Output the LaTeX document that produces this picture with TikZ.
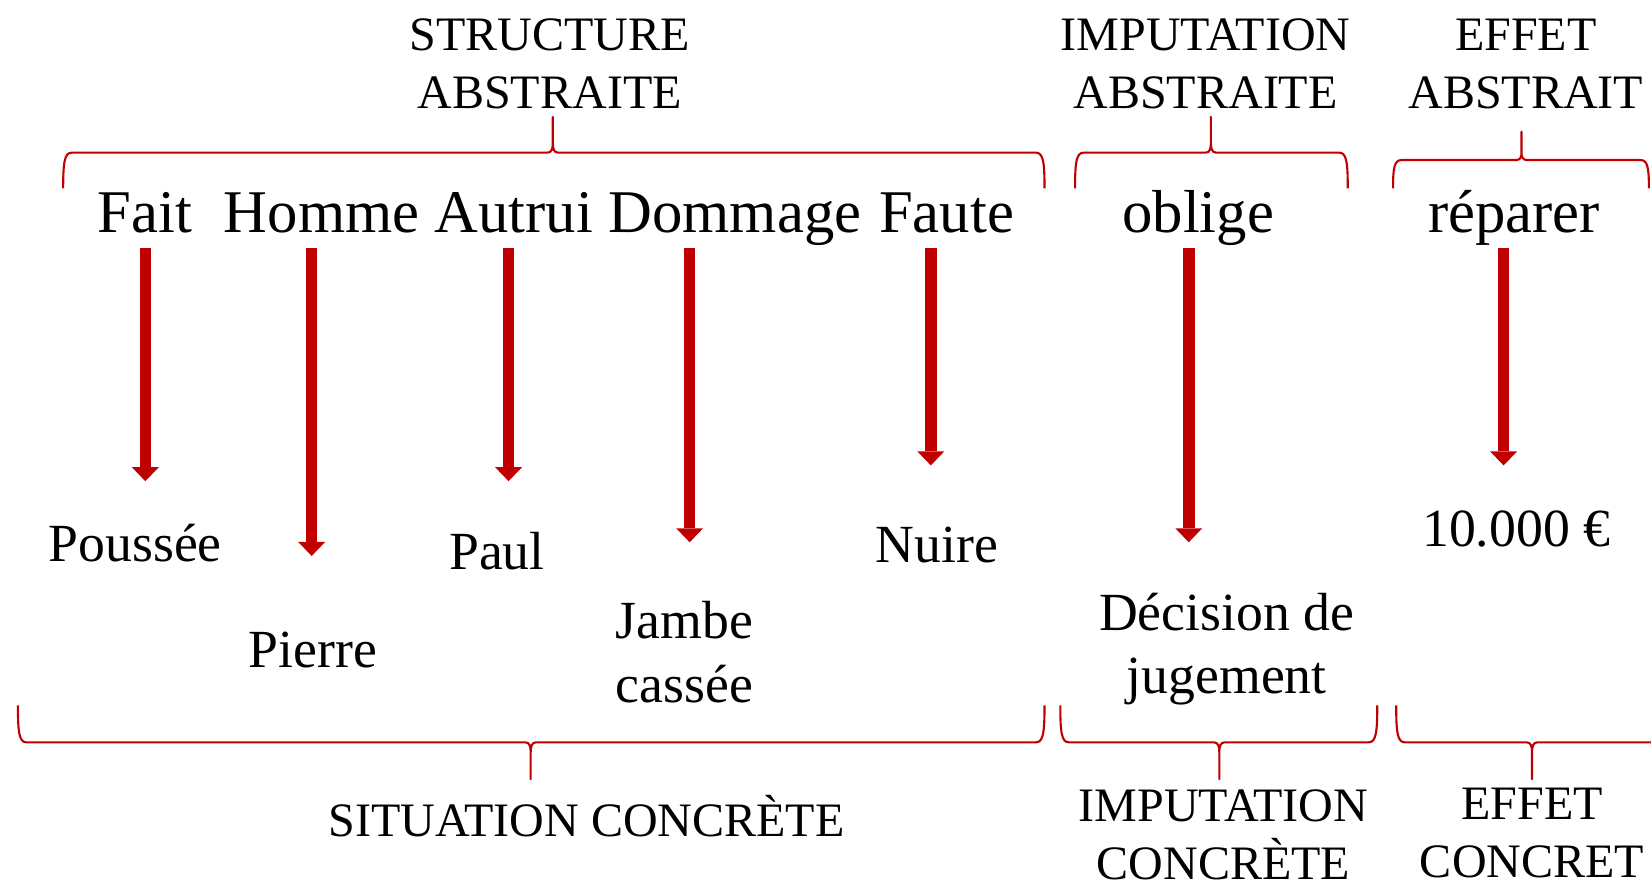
\documentclass[tikz,border=0pt]{standalone}
\usepackage{fontspec}
\setmainfont{Liberation Serif}
\usetikzlibrary{arrows.meta}
\definecolor{dred}{RGB}{192,0,0}
\newcommand{\mybrace}[5]{%
 \draw[bracestyle] ({#1},{#4+(#5)}) .. controls ({#1},{#4+0.3*(#5)}) and ({#1+1},{#4}) .. ({#1+8},{#4})
  -- ({#3-5},{#4}) .. controls ({#3-1},{#4}) and ({#3},{#4-0.12*(#5)}) .. ({#3},{#4-0.27*(#5)})
  -- ({#3},{#4-(#5)}) -- ({#3},{#4-0.27*(#5)}) .. controls ({#3},{#4-0.12*(#5)}) and ({#3+1},{#4}) .. ({#3+5},{#4})
  -- ({#2-8},{#4}) .. controls ({#2-1},{#4}) and ({#2},{#4+0.3*(#5)}) .. ({#2},{#4+(#5)});}
\begin{document}
\begin{tikzpicture}[x=1pt,y=-1pt,
  lbl/.style={font=\fontsize{45.6}{55}\selectfont, align=center, inner sep=0pt, anchor=base},
  word/.style={font=\fontsize{57.6}{66}\selectfont, inner sep=0pt, anchor=base},
  conc/.style={font=\fontsize{51}{60.5}\selectfont, align=center, inner sep=0pt, anchor=base},
  bigarrow/.style={draw=dred, line width=11pt, -{Triangle[width=25.6pt,length=13.3pt,line width=0pt]}},
  bracestyle/.style={draw=dred, line width=2pt, line join=round}]
\useasboundingbox (0,0) rectangle (1568,837);
% top labels (base = last line)
\node[lbl] (sa) at (522,103) {STRUCTURE\\ABSTRAITE};
\node[lbl] (ia) at (1145,103) {IMPUTATION\\ABSTRAITE};
\node[lbl] (ea) at (1449,103) {EFFET\\ABSTRAIT};
% top braces
\mybrace{60}{992}{525}{145}{34}
\mybrace{1021}{1280}{1150}{145}{34}
\mybrace{1323}{1566}{1445}{152}{27}
% words
\node[word] (fait) at (137.5,221) {Fait};
\node[word] (homme) at (305.5,221) {Homme};
\node[word] (autrui) at (488,221) {Autrui};
\node[word] (dommage) at (698,221) {Dommage};
\node[word] (faute) at (899,221) {Faute};
\node[word] (oblige) at (1138,221) {oblige};
\node[word] (reparer) at (1438,221) {réparer};
% concrete items
\node[conc] (pous) at (128.5,533) {Poussée};
\node[conc] (pier) at (297,634) {Pierre};
\node[conc] (paul) at (472,541) {Paul};
\node[conc] (jamb) at (650,667) {Jambe\\cassée};
\node[conc] (nuir) at (890,534) {Nuire};
\node[conc] (deci) at (1165,659) {Décision de\\jugement};
\node[conc] (euro) at (1440,519) {10.000 €};
% arrows
\coordinate (a1s) at (138,236);  \coordinate (a1e) at (138,457);
\coordinate (a2s) at (296,236);  \coordinate (a2e) at (296,528);
\coordinate (a3s) at (483,236);  \coordinate (a3e) at (483,457);
\coordinate (a4s) at (655,236);  \coordinate (a4e) at (655,515);
\coordinate (a5s) at (884,236);  \coordinate (a5e) at (884,442);
\coordinate (a6s) at (1129,236); \coordinate (a6e) at (1129,515);
\coordinate (a7s) at (1428,236); \coordinate (a7e) at (1428,442);
\draw[bigarrow] (a1s) -- (a1e);
\draw[bigarrow] (a2s) -- (a2e);
\draw[bigarrow] (a3s) -- (a3e);
\draw[bigarrow] (a4s) -- (a4e);
\draw[bigarrow] (a5s) -- (a5e);
\draw[bigarrow] (a6s) -- (a6e);
\draw[bigarrow] (a7s) -- (a7e);
% bottom braces
\mybrace{17}{992}{504}{705}{-35}
\mybrace{1007}{1308}{1158}{705}{-35}
\mybrace{1326}{1584}{1455}{705}{-35}
% bottom labels
\node[lbl] (sc) at (557,794) {SITUATION CONCRÈTE};
\node[lbl] (ic) at (1162,835) {IMPUTATION\\CONCRÈTE};
\node[lbl] (ec) at (1455,833) {EFFET\\CONCRET};
\end{tikzpicture}
\end{document}
